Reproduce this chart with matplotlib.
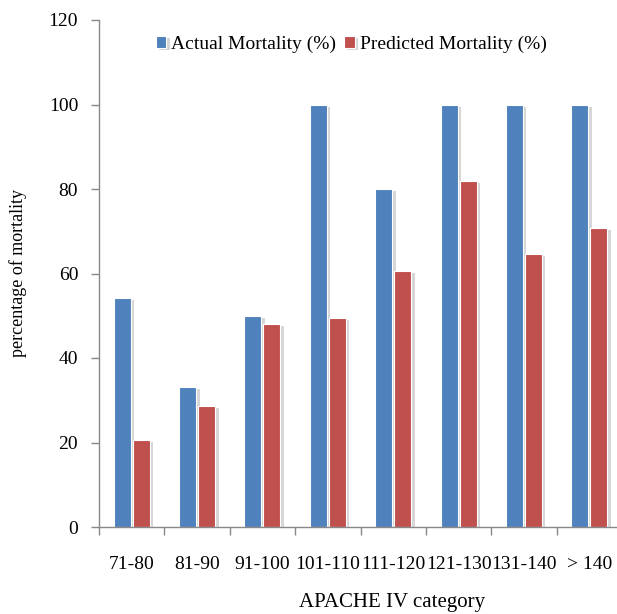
import matplotlib.pyplot as plt
import matplotlib.patheffects as pe
import numpy as np

# chart data
categories = ['71-80', '81-90', '91-100', '101-110', '111-120', '121-130', '131-140', '> 140']
actual = [54.3, 33.1, 50.0, 100.0, 80.0, 100.0, 100.0, 100.0]
predicted = [20.5, 28.6, 48.1, 49.5, 60.5, 81.8, 64.7, 70.7]

plt.rcParams['font.family'] = ['Liberation Serif', 'DejaVu Serif']

fig = plt.figure(figsize=(6.17, 6.14), dpi=100)
W, H = 617, 614
ax = fig.add_axes([99 / W, (H - 527) / H, (622 - 99) / W, (527 - 20) / H])

x = np.arange(len(categories))
bw = 0.26
off = 0.145
shadow = [pe.SimplePatchShadow(offset=(2.5, -1.5), shadow_rgbFace='#999999', alpha=0.4), pe.Normal()]

ax.bar(x - off, actual, bw, color='#4F81BD', edgecolor='white', linewidth=0.8,
       label='Actual Mortality (%)', path_effects=shadow)
ax.bar(x + off, predicted, bw, color='#C0504D', edgecolor='white', linewidth=0.8,
       label='Predicted Mortality (%)', path_effects=shadow)

ax.set_xlim(-0.5, len(categories) - 0.5)
ax.set_ylim(0, 120)
ax.set_yticks(range(0, 121, 20))

# category labels centred, ticks at boundaries
ax.set_xticks(x)
ax.set_xticklabels(categories, fontsize=14)
ax.set_xticks(np.arange(len(categories) + 1) - 0.5, minor=True)
ax.tick_params(axis='x', which='major', length=0, pad=21)
ax.tick_params(axis='x', which='minor', length=6, color='#888888', width=1)
ax.tick_params(axis='y', length=6, color='#888888', width=1, labelsize=14, pad=9)

for s in ['top', 'right']:
    ax.spines[s].set_visible(False)
for s in ['left', 'bottom']:
    ax.spines[s].set_color('#888888')
    ax.spines[s].set_linewidth(1)

ax.set_ylabel('percentage of mortality', fontsize=13)
ax.set_xlabel('APACHE IV category', fontsize=15)
ax.yaxis.set_label_coords(18 / W, (H - 273) / H, transform=fig.transFigure)
ax.xaxis.set_label_coords(392 / W, 2 / H, transform=fig.transFigure)
ax.xaxis.label.set_va('bottom')
ax.yaxis.label.set_va('center')

ax.legend(loc='upper center', bbox_to_anchor=(351 / W, (H - 28) / H),
          bbox_transform=fig.transFigure, ncol=2, frameon=False, fontsize=14,
          handlelength=0.55, handleheight=0.55, handletextpad=0.25, columnspacing=0.4,
          borderaxespad=0)

fig.savefig('out.png', dpi=100)
